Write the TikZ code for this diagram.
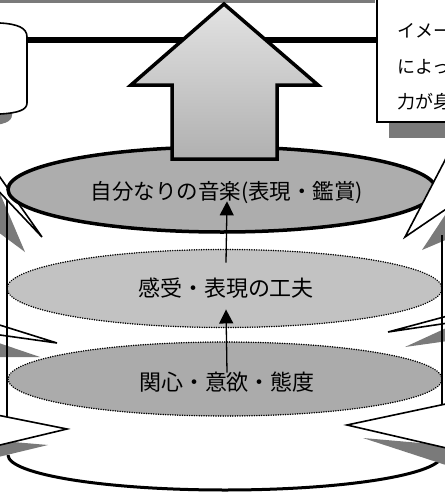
\documentclass[tikz,border=0pt]{standalone}
\usepackage{fontspec}
\setmainfont{Noto Sans CJK JP}
\usetikzlibrary{shapes.geometric,arrows.meta}
\definecolor{ellTop}{gray}{0.68}
\definecolor{ellMid}{gray}{0.76}
\definecolor{ellBot}{gray}{0.67}
\definecolor{shad}{gray}{0.48}
\begin{document}
\begin{tikzpicture}[x=1pt,y=-1pt,
  spike/.style={fill=white,draw=black,line width=1.6pt},
  spikeshade/.style={fill=shad,draw=none},
  layer/.style={ellipse,inner sep=0pt,draw=black},
  dotline/.style={line width=1.6pt,dash pattern=on 0.1pt off 2.3pt,line cap=round},
  lbl/.style={inner sep=0pt,font=\fontsize{22pt}{24pt}\selectfont},
  boxtxt/.style={inner sep=0pt,anchor=west,font=\fontsize{18pt}{20pt}\selectfont},
  conn/.style={line width=1.3pt,-{Triangle[length=14pt,width=14pt]}},
  cyl/.style={line width=2.6pt}]
\useasboundingbox (0,0) rectangle (445,496);
\fill[white] (0,0) rectangle (445,496);
\clip (0,0) rectangle (445,496);
% top band
\fill[shad] (0,0) rectangle (375,3);
% left callout
\fill[shad] (-75,34) -- (-15,35) .. controls (3,36) and (12,40) .. (12,49) -- (12,115) .. controls (12,122) and (3,125) .. (-15,126) -- (-75,126) -- cycle;
\draw[line width=1.6pt,fill=white] (-60,22) -- (0,23) .. controls (18,24) and (27,28) .. (27,37) -- (27,103) .. controls (27,110) and (18,113) .. (0,114) -- (-60,114) -- cycle;
% right text box
\fill[shad] (389,122) rectangle (460,138);
\draw[line width=1.3pt,fill=white] (377,-10) rectangle (460,122);
\node[boxtxt] (b1) at (397,31) {イメー};
\node[boxtxt] (b2) at (397,67) {によっ};
\node[boxtxt] (b3) at (397,102) {力が身};
% thick line
\draw[line width=6pt] (27,39.5) -- (377,39.5);
% cylinder bottom
\draw[line width=3pt] (8,455) arc[start angle=180,end angle=360,x radius=217pt,y radius=35pt];
% left spikes
\fill[spikeshade] (-10,170) -- (25,252) -- (-10,226) -- cycle;
\draw[spike] (-10,163) -- (42,237) -- (-10,182) -- cycle;
\fill[spikeshade] (-10,340) -- (40,357) -- (-10,357) -- cycle;
\draw[spike] (-10,322) -- (57,343) -- (-10,333.6) -- cycle;
\fill[spikeshade] (-10,440) -- (48,445) -- (-10,459) -- cycle;
\draw[spike] (-10,413.6) -- (67,429) -- (-10,447.4) -- cycle;
% ellipses
\node[layer,fill=ellBot,dotline,minimum width=434pt,minimum height=74pt] (botell) at (225,379) {};
\node[layer,fill=ellMid,dotline,minimum width=435pt,minimum height=78pt] (midell) at (224.5,288.5) {};
\node[layer,fill=ellTop,line width=3.5pt,minimum width=428pt,minimum height=85pt] (topell) at (222,189.5) {};
% right spikes
\fill[spikeshade] (455,200) -- (422,250) -- (455,236) -- cycle;
\draw[spike] (455,141) -- (405,237) -- (455,203) -- cycle;
\fill[spikeshade] (455,324) -- (405,347) -- (455,340) -- cycle;
\draw[spike] (455,314) -- (388,332) -- (455,322) -- cycle;
\fill[spikeshade] (455,446) -- (363,438) -- (455,468) -- cycle;
\draw[spike] (455,402) -- (347,425) -- (455,450) -- cycle;
% cylinder sides
\draw[cyl] (7,200) -- (7,417);
\draw[cyl] (442,235) -- (442,405);
% big arrow
\path[draw=black,line width=3.5pt,top color=gray!22,bottom color=gray!62]
  (224,4) -- (318,85) -- (277,85) -- (277,159) -- (172,159) -- (172,85) -- (131,85) -- cycle;
% texts
\node[lbl,font=\fontsize{21.5pt}{24pt}\selectfont] (toptext) at (227,193) {自分なりの音楽(表現・鑑賞)};
\node[lbl] (midtext) at (226,288) {感受・表現の工夫};
\node[lbl] (bottext) at (227,382) {関心・意欲・態度};
% connectors
\draw[conn] ([yshift=15pt]midtext.north) -- ([yshift=3pt]toptext.south);
\draw[conn] ([yshift=-1pt]bottext.north) -- ([yshift=-11pt]midtext.south);
\end{tikzpicture}
\end{document}
